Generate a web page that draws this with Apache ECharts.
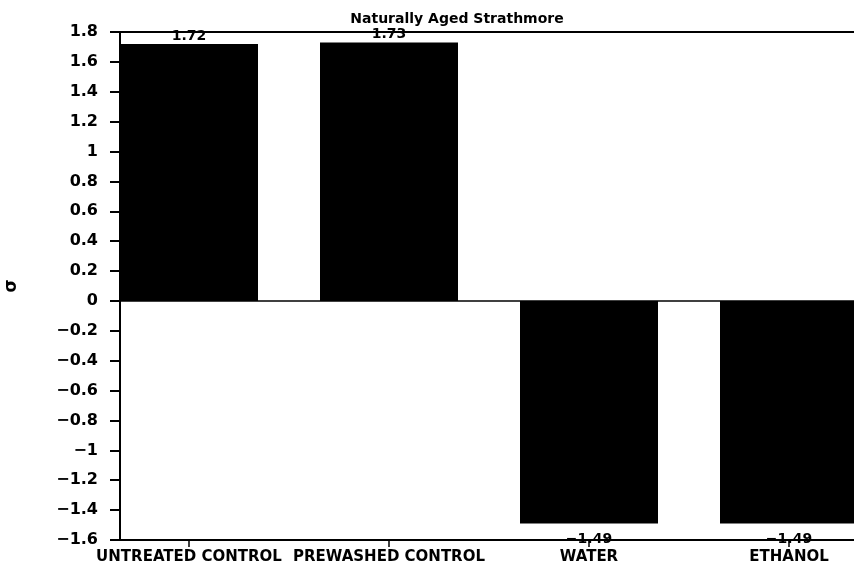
<!DOCTYPE html>
<html>
<head>
<meta charset="utf-8">
<script src="https://cdn.jsdelivr.net/npm/echarts@6/dist/echarts.min.js"></script>
<style>html,body{margin:0;padding:0;background:#fff}#c{width:854px;height:573px}</style>
</head>
<body>
<div id="c"></div>
<script>
const titleText = "Naturally Aged Strathmore";
const categories = ["UNTREATED CONTROL", "PREWASHED CONTROL", "WATER", "ETHANOL"];
const values = [1.72, 1.73, -1.49, -1.49];
const valueLabels = ["1.72", "1.73", "\u22121.49", "\u22121.49"];
const yAxisName = "\u03c3";

const chart = echarts.init(document.getElementById('c'), null, {renderer: 'canvas'});
const font = 'DejaVu Sans';
const data = values.map((v, i) => ({
  value: [i, v],
  label: {position: v >= 0 ? 'top' : 'bottom', distance: v >= 0 ? 1 : 9, formatter: valueLabels[i]}
}));
chart.setOption({
  animation: false,
  backgroundColor: '#fff',
  title: {
    text: titleText, left: 452, top: 7, textAlign: 'center',
    textStyle: {fontFamily: font, fontSize: 14, fontWeight: 'bold', color: '#000'}
  },
  grid: {left: 120, right: 0, top: 32, bottom: 33, containLabel: false, outerBoundsMode: 'none'},
  xAxis: [{
    type: 'value', min: -0.345, max: 3.325, position: 'bottom',
    axisLine: {onZero: false, lineStyle: {color: '#000', width: 2}},
    axisTick: {show: true, customValues: [0, 1, 2, 3], length: 7, lineStyle: {color: '#000', width: 1.5}},
    axisLabel: {customValues: [0, 1, 2, 3], formatter: v => categories[Math.round(v)] || '',
      fontFamily: font, fontSize: 15, fontWeight: 'bold', color: '#000', margin: 10},
    splitLine: {show: false}
  }, {
    type: 'value', min: -0.345, max: 3.325, position: 'top',
    axisLine: {onZero: false, lineStyle: {color: '#000', width: 2}},
    axisTick: {show: false}, axisLabel: {show: false}, splitLine: {show: false}
  }],
  yAxis: {
    type: 'value', min: -1.6, max: 1.8, interval: 0.2,
    name: yAxisName, nameLocation: 'middle', nameGap: 100,
    nameTextStyle: {fontFamily: font, fontSize: 17, fontWeight: 'bold', color: '#000'},
    axisLine: {show: true, onZero: false, lineStyle: {color: '#000', width: 2}},
    axisTick: {show: true, length: 10, lineStyle: {color: '#000', width: 2}},
    axisLabel: {fontFamily: font, fontSize: 16, fontWeight: 'bold', color: '#000', margin: 22,
      formatter: v => String(Math.round(v * 10) / 10).replace('-', '\u2212')},
    splitLine: {show: false}
  },
  series: [{
    type: 'bar', xAxisIndex: 0, data: data, barWidth: 138,
    itemStyle: {color: '#000'},
    label: {show: true, fontFamily: font, fontSize: 14, fontWeight: 'bold', color: '#000'},
    markLine: {
      silent: true, symbol: 'none', label: {show: false},
      lineStyle: {color: '#000', width: 1.5, type: 'solid'},
      data: [{yAxis: 0}]
    }
  }]
});
</script>
</body>
</html>
